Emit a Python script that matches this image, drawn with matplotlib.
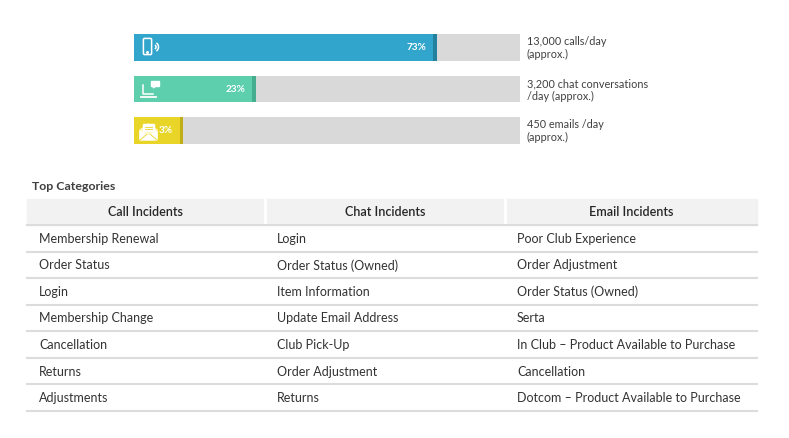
import matplotlib
matplotlib.use("Agg")
import matplotlib.pyplot as plt
from matplotlib.patches import Rectangle, FancyBboxPatch, Arc, Polygon

plt.rcParams['font.family'] = ['Lato', 'DejaVu Sans']

# ---- data ----
channels = ["Call", "Chat", "Email"]
shares = [73, 23, 3]
share_labels = ["73%", "23%", "3%"]
volume_notes = ["13,000 calls/day\n(approx.)",
                "3,200 chat conversations\n/day (approx.)",
                "450 emails /day\n(approx.)"]
bar_colors = ["#31A5CB", "#5DCFAD", "#E9D528"]
edge_colors = ["#23809F", "#46AE8F", "#BFAE18"]

table_title = "Top Categories"
headers = ["Call Incidents", "Chat Incidents", "Email Incidents"]
call_incidents = ["Membership Renewal", "Order Status", "Login", "Membership Change",
                  "Cancellation", "Returns", "Adjustments"]
chat_incidents = ["Login", "Order Status (Owned)", "Item Information", "Update Email Address",
                  "Club Pick-Up", "Order Adjustment", "Returns"]
email_incidents = ["Poor Club Experience", "Order Adjustment", "Order Status (Owned)", "Serta",
                   "In Club \u2013 Product Available to Purchase", "Cancellation",
                   "Dotcom \u2013 Product Available to Purchase"]

W, H = 789, 438
fig = plt.figure(figsize=(W / 100, H / 100), dpi=100)
fig.patch.set_facecolor("white")

def px_axes(x0, y0, x1, y1, **kw):
    return fig.add_axes([x0 / W, 1 - y1 / H, (x1 - x0) / W, (y1 - y0) / H], **kw)

# ---- bar chart ----
track_left = -10.6
track_right = 95.9
h = 0.65
ax = px_axes(134, 34, 520, 144)
ax.set_xlim(track_left, track_right)
ax.set_ylim(len(channels) - 1 + h / 2, -h / 2)
ax.axis("off")
ys = list(range(len(channels)))
ax.barh(ys, [100 - track_left] * len(ys), left=track_left, height=h, color="#D9D9D9", zorder=1)
ax.barh(ys, [v - track_left for v in shares], left=track_left, height=h, color=bar_colors, zorder=2)
ax.barh(ys, [1.0] * len(ys), left=[v - 1.0 for v in shares], height=h, color=edge_colors, zorder=3)
for y, v, lab in zip(ys, shares, share_labels):
    ax.text(v - 2.8, y, lab, ha="right", va="center", color="white",
            fontsize=7.2, fontweight="bold", zorder=4)

# ---- overlay axes in pixel coordinates (icons, notes, table) ----
ov = px_axes(0, 0, W, H)
ov.set_xlim(0, W)
ov.set_ylim(H, 0)
ov.axis("off")
ov.patch.set_alpha(0)

# icons
# tablet + waves
ov.add_patch(FancyBboxPatch((144, 39), 7, 15, boxstyle="round,pad=0.6,rounding_size=1.2",
                            fill=False, ec="white", lw=1.1, zorder=5))
ov.plot([147.5], [52.3], marker="o", ms=1.2, color="white", zorder=5)
for r in (2.5, 5):
    ov.add_patch(Arc((153.5, 47), 2 * r, 2 * r, theta1=-55, theta2=55, color="white", lw=1.1, zorder=5))
# laptop + chat
ov.plot([143, 143, 153], [85, 94, 94], color="white", lw=1.1, zorder=5)
ov.plot([141, 156], [96.5, 96.5], color="white", lw=1.3, zorder=5)
ov.add_patch(Rectangle((151.5, 81), 8, 5, color="white", zorder=5))
ov.add_patch(Polygon([[153, 85.5], [156, 85.5], [153.5, 88]], color="white", zorder=5))
# envelope
ov.add_patch(Polygon([[140, 130], [148.5, 124], [157, 130], [157, 139], [140, 139]],
                     closed=True, color="#FFF6B8", zorder=5))
ov.add_patch(Rectangle((143, 124), 11, 7, color="white", zorder=6))
for yy in (126.5, 128.5):
    ov.plot([145, 152], [yy, yy], color="#E9D528", lw=0.6, zorder=7)
ov.add_patch(Polygon([[140, 131], [148.5, 136], [157, 131], [157, 140], [140, 140]],
                     closed=True, color="white", zorder=7))
ov.plot([140, 146.5], [140, 134.5], color="#E9D528", lw=0.6, zorder=8)
ov.plot([157, 150.5], [140, 134.5], color="#E9D528", lw=0.6, zorder=8)

# notes
note_y = [48, 90, 131]
for y, note in zip(note_y, volume_notes):
    ov.text(527, y, note, ha="left", va="center", fontsize=7.8, color="#404040", linespacing=1.2)

# table
ov.text(32, 187, table_title, ha="left", va="center", fontsize=8.9, fontweight="bold", color="#404040")
col_x = [27, 265, 505, 757]
head_top, head_bot = 199, 225
row_h = (411 - 225) / len(call_incidents)
ov.add_patch(Rectangle((col_x[0], head_top), col_x[-1] - col_x[0], head_bot - head_top,
                       color="#F2F2F2", zorder=1))
for x in col_x[1:-1]:
    ov.plot([x, x], [head_top, head_bot], color="white", lw=2, zorder=2)
for i, hd in enumerate(headers):
    ov.text((col_x[i] + col_x[i + 1]) / 2, (head_top + head_bot) / 2, hd, ha="center", va="center",
            fontsize=9.0, color="#262626", fontweight="semibold", zorder=3)
ov.plot([col_x[0], col_x[-1]], [head_bot, head_bot], color="#DCDCDC", lw=1.5, zorder=2)
columns = [call_incidents, chat_incidents, email_incidents]
for r in range(len(call_incidents)):
    top = head_bot + r * row_h
    bot = top + row_h
    for c, col in enumerate(columns):
        ov.text(col_x[c] + 12, (top + bot) / 2 + 0.5, col[r], ha="left", va="center",
                fontsize=9.0, color="#333333", zorder=3)
    ov.plot([col_x[0], col_x[-1]], [bot, bot], color="#DCDCDC", lw=1.5, zorder=2)

fig.savefig("out.png", dpi=100, facecolor="white")
